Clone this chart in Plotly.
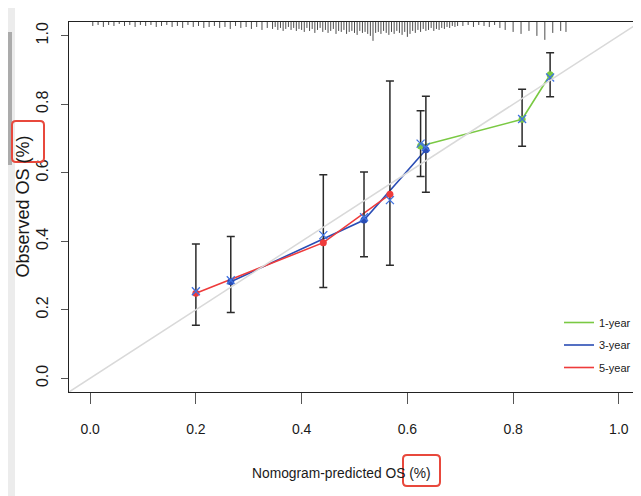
import plotly.graph_objects as go

# ---------------- data ----------------
series_names = ["1-year", "3-year", "5-year"]

pred_1y = [0.625, 0.817, 0.870]
obs_1y = [0.678, 0.756, 0.886]
lo_1y = [0.589, 0.677, 0.822]
hi_1y = [0.781, 0.844, 0.950]
corr_1y = [0.685, 0.757, 0.878]

pred_3y = [0.266, 0.518, 0.635]
obs_3y = [0.282, 0.462, 0.667]
lo_3y = [0.192, 0.355, 0.543]
hi_3y = [0.414, 0.602, 0.823]
corr_3y = [0.286, 0.470, 0.675]

pred_5y = [0.200, 0.441, 0.567]
obs_5y = [0.248, 0.396, 0.537]
lo_5y = [0.155, 0.265, 0.330]
hi_5y = [0.392, 0.594, 0.868]
corr_5y = [0.254, 0.418, 0.520]

tick_vals = [0.0, 0.2, 0.4, 0.6, 0.8, 1.0]
tick_text = ["0.0", "0.2", "0.4", "0.6", "0.8", "1.0"]

# distribution of predicted risk (spike histogram at top)
rug_x = [0.005, 0.015, 0.025, 0.035, 0.045, 0.055, 0.065, 0.075, 0.085, 0.095,
         0.105, 0.115, 0.125, 0.135, 0.145, 0.155, 0.165, 0.175, 0.185, 0.195,
         0.205, 0.215, 0.225, 0.235, 0.245, 0.255, 0.265, 0.275, 0.285, 0.295,
         0.305, 0.315, 0.325, 0.335,
         0.345, 0.350, 0.355, 0.360, 0.365, 0.370, 0.375, 0.380, 0.385, 0.390,
         0.395, 0.400, 0.405, 0.410, 0.415, 0.420, 0.425, 0.430, 0.435, 0.440,
         0.445, 0.450, 0.455, 0.460, 0.465, 0.470, 0.475, 0.480, 0.485, 0.490,
         0.495, 0.500, 0.505, 0.510, 0.515, 0.520, 0.525, 0.530, 0.535, 0.540,
         0.545, 0.550, 0.555, 0.560, 0.565, 0.570, 0.575, 0.580, 0.585, 0.590,
         0.595, 0.600, 0.605, 0.610, 0.615, 0.620, 0.625, 0.630, 0.635, 0.640,
         0.645, 0.650, 0.655, 0.660, 0.665, 0.670, 0.675, 0.680, 0.685, 0.690,
         0.695,
         0.705, 0.715, 0.725, 0.735, 0.745, 0.755, 0.765, 0.775,
         0.785, 0.800, 0.815, 0.830, 0.845, 0.860, 0.875, 0.890, 0.900]
rug_n = [4, 3, 5, 3, 4, 2, 4, 3, 5, 3,
         4, 3, 5, 4, 3, 5, 4, 6, 3, 5,
         4, 6, 5, 4, 6, 5, 7, 4, 6, 5,
         7, 5, 8, 6,
         7, 5, 8, 6, 9, 7, 5, 8, 6, 9,
         7, 8, 10, 6, 9, 7, 11, 8, 6, 10,
         8, 11, 9, 7, 12, 9, 10, 8, 12, 10,
         9, 11, 13, 9, 11, 10, 12, 14, 19, 11,
         10, 12, 9, 11, 13, 10, 12, 9, 11, 13,
         10, 15, 12, 9, 11, 8, 10, 7, 9, 8,
         6, 9, 7, 8, 6, 7, 5, 6, 4, 5,
         4,
         4, 3, 5, 3, 4, 5, 3, 6,
         8, 10, 12, 9, 14, 18, 11, 9, 10]

# ---------------- styles ----------------
OFF = 8                      # page body margin in the browser
W, H = 680, 496 - OFF
PL, PR, PT, PB = 69, 640, 22, 392   # plot area in window pixels
ML, MR, MT, MB = PL - OFF, W - (PR - OFF), PT - OFF, H - (PB - OFF)
PW, PH = PR - PL, PB - PT
XR = [-0.04, 1.04]
YR = [-0.04, 1.04]
colors = ["#7AC943", "#2A4DB5", "#EE3B3B"]
corr_color = "#3F72E0"
FONT = "Liberation Sans, Arial, Helvetica, sans-serif"


def px_x(p):
    return (p - PL) / PW


def px_y(p):
    return (PB - p) / PH


fig = go.Figure()

# rug / spike histogram hanging from top border
rmax = max(rug_n)
rx, ry = [], []
for xv, n in zip(rug_x, rug_n):
    rx += [xv, xv, None]
    ry += [YR[1], YR[1] - 0.055 * n / rmax, None]
fig.add_trace(go.Scatter(x=rx, y=ry, mode="lines", line=dict(color="#4d4d4d", width=1),
                         showlegend=False, hoverinfo="skip"))

all_series = [
    (pred_1y, obs_1y, lo_1y, hi_1y, corr_1y),
    (pred_3y, obs_3y, lo_3y, hi_3y, corr_3y),
    (pred_5y, obs_5y, lo_5y, hi_5y, corr_5y),
]

# lines (legend entries)
for name, col, (p, o, lo, hi, c) in zip(series_names, colors, all_series):
    fig.add_trace(go.Scatter(x=p, y=o, mode="lines", name=name, legendgroup=name,
                             line=dict(color=col, width=1.6)))

# error bars + observed points
for name, col, (p, o, lo, hi, c) in zip(series_names, colors, all_series):
    fig.add_trace(go.Scatter(
        x=p, y=o, mode="markers", showlegend=False,
        marker=dict(symbol="circle", size=7, color=col),
        error_y=dict(type="data", symmetric=False,
                     array=[h - v for h, v in zip(hi, o)],
                     arrayminus=[v - l for v, l in zip(o, lo)],
                     color="#2b2b2b", thickness=1.5, width=4)))

# bias-corrected estimates
for name, (p, o, lo, hi, c) in zip(series_names, all_series):
    fig.add_trace(go.Scatter(x=p, y=c, mode="markers", showlegend=False,
                             marker=dict(symbol="x-thin", size=8,
                                         line=dict(color=corr_color, width=1.3))))

# ideal line
fig.add_trace(go.Scatter(x=XR, y=YR, mode="lines", showlegend=False,
                         line=dict(color="#D9D9D9", width=1.5), hoverinfo="skip"))


def rounded_rect(x0, y0, x1, y1, r=4):
    X = px_x
    Y = px_y
    return (f"M {X(x0 + r)},{Y(y0)} L {X(x1 - r)},{Y(y0)} Q {X(x1)},{Y(y0)} {X(x1)},{Y(y0 + r)} "
            f"L {X(x1)},{Y(y1 - r)} Q {X(x1)},{Y(y1)} {X(x1 - r)},{Y(y1)} "
            f"L {X(x0 + r)},{Y(y1)} Q {X(x0)},{Y(y1)} {X(x0)},{Y(y1 - r)} "
            f"L {X(x0)},{Y(y0 + r)} Q {X(x0)},{Y(y0)} {X(x0 + r)},{Y(y0)} Z")


shapes = [
    # screenshot side strip
    dict(type="rect", xref="paper", yref="paper", x0=px_x(8), x1=px_x(15), y0=px_y(500), y1=px_y(0),
         fillcolor="#ECECEC", line=dict(width=0), layer="below"),
    dict(type="rect", xref="paper", yref="paper", x0=px_x(8), x1=px_x(12), y0=px_y(165), y1=px_y(32),
         fillcolor="#ABABAB", line=dict(width=0), layer="below"),
    # red highlight boxes
    dict(type="path", xref="paper", yref="paper", path=rounded_rect(12, 121, 44, 162),
         line=dict(color="#E8483C", width=2)),
    dict(type="path", xref="paper", yref="paper", path=rounded_rect(403, 455, 440, 486),
         line=dict(color="#E8483C", width=2)),
]

annotations = [
    dict(text="Nomogram-predicted OS (%)", xref="paper", yref="paper",
         x=px_x(341), y=px_y(473), xanchor="center", yanchor="middle", showarrow=False,
         font=dict(family=FONT, size=13.8, color="#1a1a1a")),
    dict(text="Observed OS (%)", xref="paper", yref="paper", textangle=-90,
         x=px_x(22.5), y=px_y(207), xanchor="center", yanchor="middle", showarrow=False,
         font=dict(family=FONT, size=18, color="#1a1a1a")),
]

fig.update_layout(
    width=W, height=H,
    margin=dict(l=ML, r=MR, t=MT, b=MB, autoexpand=False),
    paper_bgcolor="white", plot_bgcolor="white",
    shapes=shapes, annotations=annotations,
    showlegend=True,
    legend=dict(x=px_x(559), y=px_y(308), xanchor="left", yanchor="top",
                bgcolor="rgba(0,0,0,0)", borderwidth=0,
                font=dict(family=FONT, size=11, color="#1a1a1a"),
                tracegroupgap=3.5),
    xaxis=dict(range=XR, tickvals=tick_vals, ticktext=tick_text,
               showgrid=False, zeroline=False, showline=True, mirror=True,
               linecolor="#222", linewidth=1.3, ticks="outside", ticklen=11,
               tickwidth=1.3, tickcolor="#555", ticklabelstandoff=13,
               tickfont=dict(family=FONT, size=14, color="#1a1a1a")),
    yaxis=dict(range=YR, tickvals=tick_vals, ticktext=tick_text,
               showgrid=False, zeroline=False, showline=True, mirror=False,
               linecolor="#222", linewidth=1.3, ticks="outside", ticklen=7,
               tickwidth=1.3, tickcolor="#555", tickangle=-90, ticklabelstandoff=6,
               tickfont=dict(family=FONT, size=16, color="#1a1a1a")),
)

fig.write_html("out.html")
